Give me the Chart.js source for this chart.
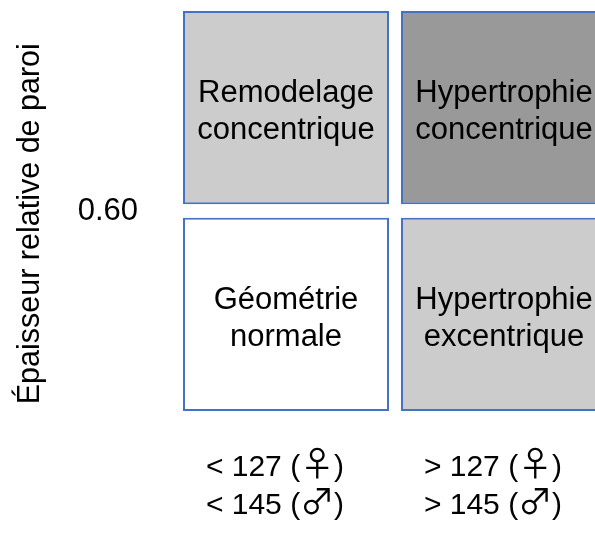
<!DOCTYPE html>
<html>
<head>
<meta charset="utf-8">
<script src="https://cdn.jsdelivr.net/npm/chart.js@4.4.1/dist/chart.umd.min.js"></script>
<style>
    html, body { margin: 0; padding: 0; background: #ffffff; overflow: hidden; }
    #wrap { width: 613px; height: 540px; }
    /* thin, tall gender symbols like in the original slide */
    @font-face {
        font-family: 'GenderSym';
        src: local('Noto Sans CJK JP Regular'), local('NotoSansCJKjp-Regular'), local('Noto Sans CJK JP'), local('DejaVu Sans');
        unicode-range: U+2640, U+2642;
        size-adjust: 115%;
    }
</style>
</head>
<body>
<div id="wrap"><canvas id="lvgeom-chart" width="613" height="540"></canvas></div>
<script>
// lvgeom-chart - Géométrie ventriculaire gauche (masse indexée vs épaisseur relative)

// Data: columns = masse VG indexée, rows = épaisseur relative de paroi
const massLabels = [
    ['< 127 (\u2640)', '< 145 (\u2642)'],
    ['> 127 (\u2640)', '> 145 (\u2642)']
];
const rwtThreshold = 0.60;
const rwtMin = 0.30;
const rwtMax = 0.90;

// Cell names, one per column
const lowerRowLabels = [['Géométrie', 'normale'], ['Hypertrophie', 'excentrique']];
const upperRowLabels = [['Remodelage', 'concentrique'], ['Hypertrophie', 'concentrique']];

// Fill colours per column
const lowerRowColors = ['#ffffff', '#cccccc'];
const upperRowColors = ['#cccccc', '#999999'];

const BORDER_COLOR = '#4472c4';
const FONT_FAMILY = 'GenderSym, "Liberation Sans", Arial, sans-serif';
const ROW_GAP = 0.02; // visual gap between rows, in data units

const lowerRow = massLabels.map(() => [rwtMin, rwtThreshold - ROW_GAP / 2]);
const upperRow = massLabels.map(() => [rwtThreshold + ROW_GAP / 2, rwtMax]);

/**
 * Writes the cell names in the middle of each bar
 */
const cellLabelPlugin = {
    id: 'cellLabels',
    afterDatasetsDraw(chart) {
        const ctx = chart.ctx;
        const lh = 37.6;
        ctx.save();
        ctx.font = '31px ' + FONT_FAMILY;
        ctx.fillStyle = '#000000';
        ctx.textAlign = 'center';
        ctx.textBaseline = 'alphabetic';
        chart.data.datasets.forEach((ds, i) => {
            const meta = chart.getDatasetMeta(i);
            meta.data.forEach((bar, j) => {
                const lines = ds.cellLabels[j];
                const cy = (bar.y + bar.base) / 2;
                lines.forEach((line, k) => {
                    ctx.fillText(line, bar.x, cy + 13 + (k - (lines.length - 1) / 2) * lh);
                });
            });
        });
        ctx.restore();
    }
};

function renderChart() {
    const ctx = document.getElementById('lvgeom-chart').getContext('2d');

    new Chart(ctx, {
        type: 'bar',
        data: {
            labels: massLabels,
            datasets: [
                {
                    label: 'Épaisseur < ' + rwtThreshold.toFixed(2),
                    data: lowerRow,
                    backgroundColor: lowerRowColors,
                    cellLabels: lowerRowLabels
                },
                {
                    label: 'Épaisseur > ' + rwtThreshold.toFixed(2),
                    data: upperRow,
                    backgroundColor: upperRowColors,
                    cellLabels: upperRowLabels
                }
            ]
        },
        options: {
            responsive: false,
            animation: false,
            layout: {
                padding: { left: 8, top: 11, right: 0, bottom: 16 }
            },
            datasets: {
                bar: {
                    grouped: false,
                    borderColor: BORDER_COLOR,
                    borderWidth: 2,
                    borderSkipped: false,
                    categoryPercentage: 0.945,
                    barPercentage: 1.0
                }
            },
            scales: {
                x: {
                    grid: { display: false, drawTicks: false },
                    border: { display: false },
                    afterFit: (axis) => { axis.height = 113; },
                    ticks: {
                        color: '#000000',
                        padding: 38,
                        labelOffset: -11,
                        font: { family: FONT_FAMILY, size: 30, lineHeight: 1.27 }
                    }
                },
                y: {
                    min: rwtMin,
                    max: rwtMax,
                    afterBuildTicks: (axis) => {
                        axis.ticks = [{ value: rwtThreshold }];
                    },
                    afterFit: (axis) => {
                        axis.width = 169;
                        axis.paddingTop = 0;
                        axis.paddingBottom = 0;
                    },
                    grid: { display: false, drawTicks: false },
                    border: { display: false },
                    ticks: {
                        color: '#000000',
                        padding: 39,
                        font: { family: FONT_FAMILY, size: 31 },
                        callback: (v) => v.toFixed(2)
                    },
                    title: {
                        display: true,
                        text: 'Épaisseur relative de paroi   ',
                        color: '#000000',
                        padding: { top: 4, bottom: 4 },
                        font: { family: FONT_FAMILY, size: 30.5 }
                    }
                }
            },
            plugins: {
                legend: { display: false },
                tooltip: { enabled: false }
            }
        },
        plugins: [cellLabelPlugin]
    });
}

document.fonts.load('30px GenderSym', '\u2640\u2642')
    .catch(() => null)
    .then(renderChart);
</script>
</body>
</html>
